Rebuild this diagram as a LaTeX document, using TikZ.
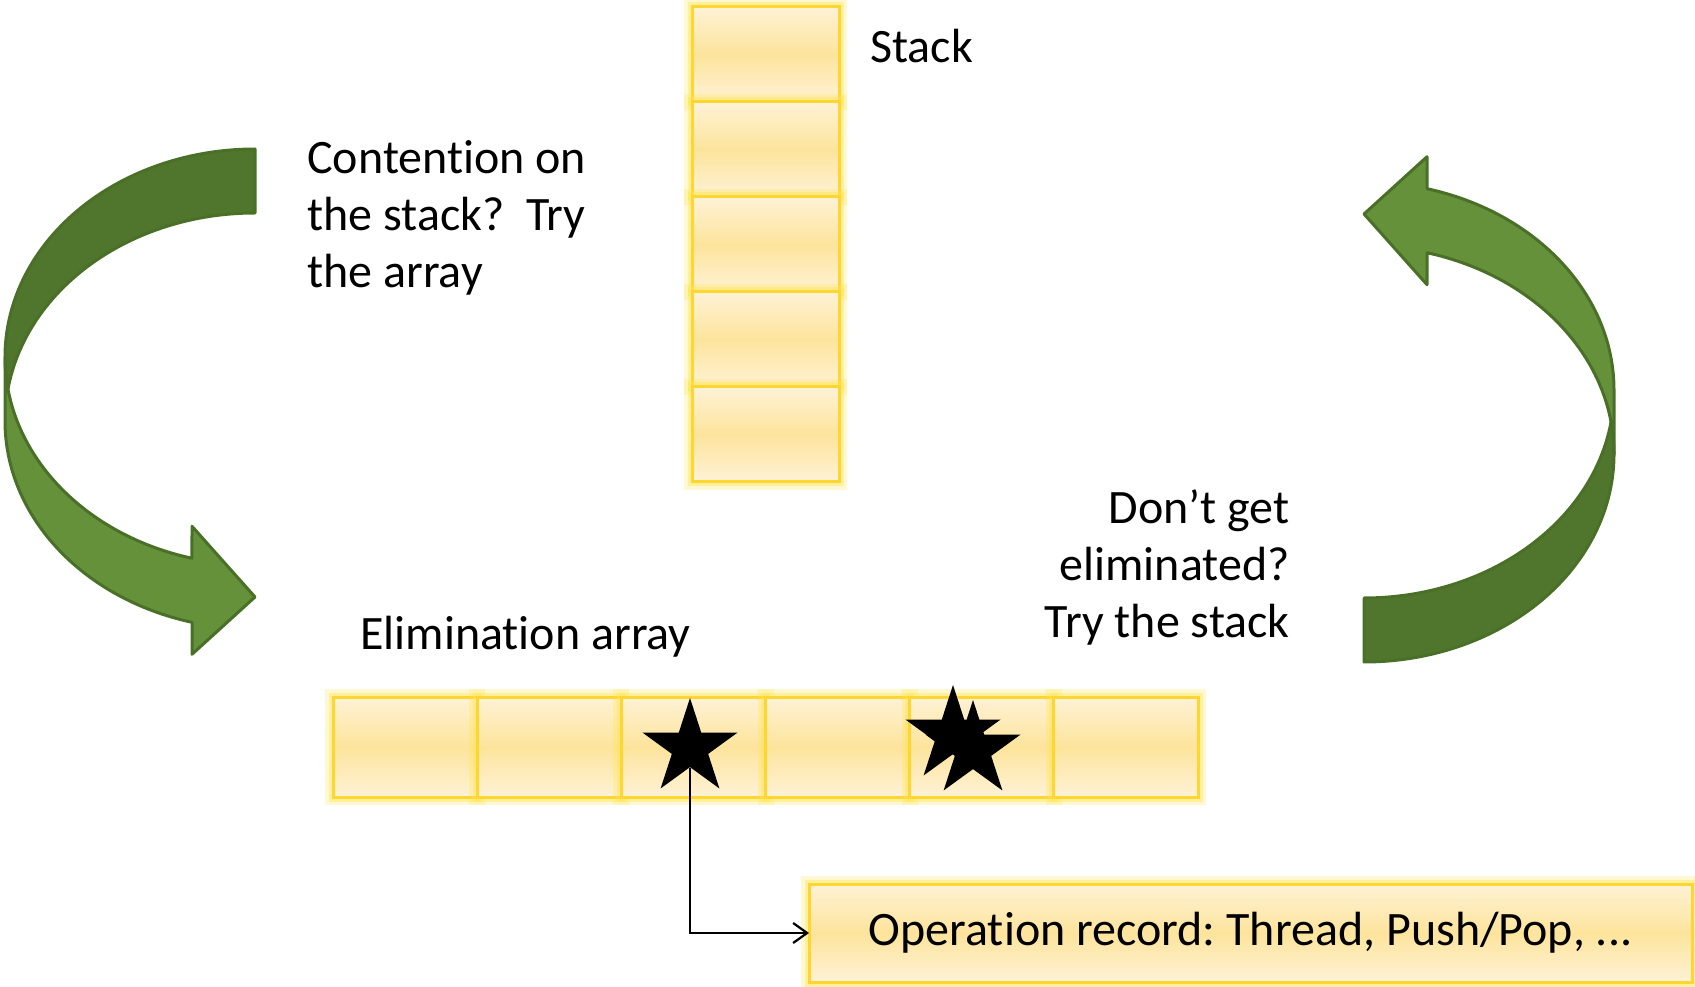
\documentclass[tikz,border=0pt]{standalone}
\usepackage{fontspec}
\setmainfont{Carlito}[Ligatures=NoCommon]
\usetikzlibrary{arrows.meta,shapes.geometric}

\definecolor{arrowbody}{HTML}{64913A}
\definecolor{arrowback}{HTML}{50752D}
\definecolor{arrowedge}{HTML}{4A7028}
\definecolor{celltop}{HTML}{FEF2D6}
\definecolor{cellmid}{HTML}{FDE49C}
\definecolor{celledge}{HTML}{FFD530}
\definecolor{cellglow}{HTML}{FFE44D}

\tikzset{
  cell/.style={rectangle,inner sep=0pt,outer sep=0pt,draw=celledge,line width=1.5pt,
               top color=celltop,bottom color=celltop,middle color=cellmid,
               preaction={draw=cellglow,draw opacity=.25,line width=8pt},
               preaction={draw=cellglow,draw opacity=.4,line width=4.5pt}},
  stackcell/.style={cell,minimum width=73.5pt,minimum height=47.5pt},
  arraycell/.style={cell,minimum width=72.1pt,minimum height=50pt},
  recbox/.style={cell,minimum width=441.5pt,minimum height=49pt,font=\fontsize{24}{28.5}\selectfont},
  starmark/.style={star,star points=5,star point ratio=2.618,minimum size=50pt,
                   inner sep=0pt,fill=black},
  txt/.style={inner sep=0pt,font=\fontsize{24}{28.5}\selectfont},
  recline/.style={-{Straight Barb[length=7pt,width=10pt]},line width=1.1pt},
  pics/curvedarrow/.style={code={
    % front of the band, ending in the head
    \filldraw[fill=arrowbody,draw=arrowedge,line width=1.5pt,line join=round]
      (-250,-208) arc[start angle=180,end angle=255.4,x radius=250,y radius=208]
      -- (-63,-377.3) -- (0,-448) -- (-63,-505.3) -- (-63,-473.3)
      arc[start angle=255.4,end angle=180,x radius=250,y radius=208] -- cycle;
    % back of the band, at the tail
    \filldraw[fill=arrowback,draw=arrowedge,line width=1.5pt,line join=round]
      (0,-64) arc[start angle=90,end angle=171.15,x radius=250,y radius=208]
      arc[start angle=188.85,end angle=90,x radius=250,y radius=208] -- cycle;
  }}
}

\begin{document}
\frenchspacing
\begin{tikzpicture}[x=0.5pt,y=0.5pt]
    \useasboundingbox (0,0) rectangle (1695,986);

    \pic at (255,837) {curvedarrow};
    \pic[rotate=180] at (1364,324) {curvedarrow};

    % the stack
    \foreach \i in {1,...,5}
        \node[stackcell] (s\i) at (765.5,{931.5-95*(\i-1)}) {};
    \node[txt,anchor=base west] (stacklbl) at (870,923) {Stack};

    % base of a multi-line node is its last line
    \node[txt,anchor=base west,align=left] (tryarray) at (307,698)
        {Contention on\\the stack?\ \ Try\\the array};
    \node[txt,anchor=base east,align=right] (trystack) at (1290,349)
        {Don’t get\\eliminated?\\Try the stack};

    % the elimination array
    \node[txt,anchor=base west] (elimlbl) at (360,337) {Elimination array};
    \foreach \i in {1,...,6}
        \node[arraycell] (e\i) at ({405.1+144.17*(\i-1)},239) {};

    \node[recbox] (rec) at (1250.5,53) {Operation record: Thread, Push/Pop, ...};

    \node[starmark] (star1) at (690,238) {};
    \node[starmark] (star2) at (953,251) {};
    \node[starmark] (star3) at (973,236) {};

    \draw[recline] (star1.south) |- (rec.west);
\end{tikzpicture}
\end{document}
